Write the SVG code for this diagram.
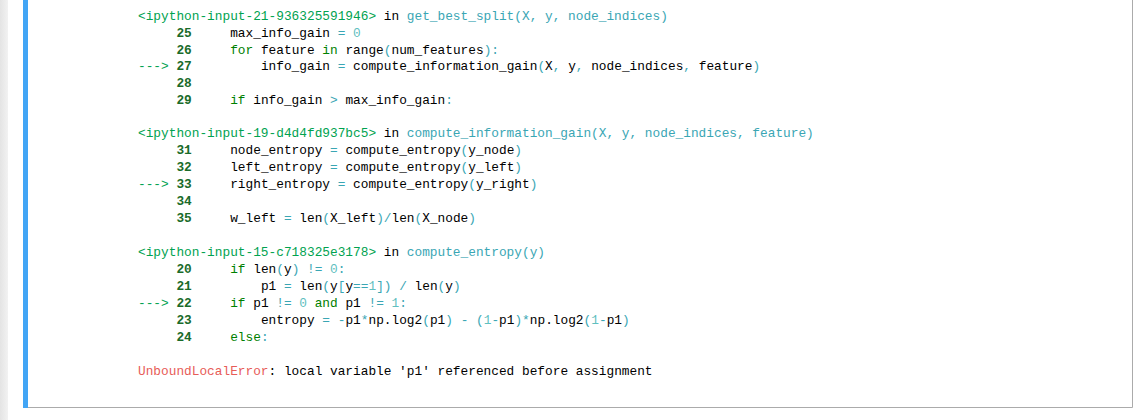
<svg xmlns="http://www.w3.org/2000/svg" width="1146" height="420" viewBox="0 0 1146 420">
<defs><linearGradient id="g" x1="0" x2="1"><stop offset="0" stop-color="#e4e4e4"/><stop offset="1" stop-color="#f2f2f2"/></linearGradient></defs>
<style>
text{font-family:"Liberation Mono","DejaVu Sans Mono",monospace;font-size:12.8px;fill:#000;white-space:pre}
.h{fill:#00a250}.f{fill:#3aa6b4}.n{fill:#1a6b2a;font-weight:bold}.a{fill:#00a250}.k{fill:#008000}.o{fill:#3aa6b4}.d{fill:#5fc0c0}.e{fill:#e75c58}
</style>
<rect width="1146" height="420" fill="#fff"/>
<rect x="0" y="0" width="8" height="420" fill="url(#g)"/>
<rect x="23" y="0" width="5" height="408" fill="#42a5f5"/>
<path d="M28 407.5H1132.5V0" fill="none" stroke="#ababab" stroke-width="1"/>
<g id="frame1">
<text x="138" y="20" xml:space="preserve"><tspan class="h">&lt;ipython-input-21-936325591946&gt;</tspan> in <tspan class="f">get_best_split(X, y, node_indices)</tspan></text>
<text class="n" x="176.4" y="37">25</text><text x="230.2" y="37" xml:space="preserve">max_info_gain <tspan class="o">=</tspan> <tspan class="d">0</tspan></text>
<text class="n" x="176.4" y="54">26</text><text x="230.2" y="54" xml:space="preserve"><tspan class="k">for</tspan> feature <tspan class="k">in</tspan> range<tspan class="o">(</tspan>num_features<tspan class="o">):</tspan></text>
<text class="a" x="138" y="70">---&gt;</text><text class="n" x="176.4" y="70">27</text><text x="230.2" y="70" xml:space="preserve">    info_gain <tspan class="o">=</tspan> compute_information_gain<tspan class="o">(</tspan>X<tspan class="o">,</tspan> y<tspan class="o">,</tspan> node_indices<tspan class="o">,</tspan> feature<tspan class="o">)</tspan></text>
<text class="n" x="176.4" y="87">28</text>
<text class="n" x="176.4" y="104">29</text><text x="230.2" y="104" xml:space="preserve"><tspan class="k">if</tspan> info_gain <tspan class="o">&gt;</tspan> max_info_gain<tspan class="o">:</tspan></text>
</g>
<g id="frame2">
<text x="138" y="137" xml:space="preserve"><tspan class="h">&lt;ipython-input-19-d4d4fd937bc5&gt;</tspan> in <tspan class="f">compute_information_gain(X, y, node_indices, feature)</tspan></text>
<text class="n" x="176.4" y="154">31</text><text x="230.2" y="154" xml:space="preserve">node_entropy <tspan class="o">=</tspan> compute_entropy<tspan class="o">(</tspan>y_node<tspan class="o">)</tspan></text>
<text class="n" x="176.4" y="171">32</text><text x="230.2" y="171" xml:space="preserve">left_entropy <tspan class="o">=</tspan> compute_entropy<tspan class="o">(</tspan>y_left<tspan class="o">)</tspan></text>
<text class="a" x="138" y="188">---&gt;</text><text class="n" x="176.4" y="188">33</text><text x="230.2" y="188" xml:space="preserve">right_entropy <tspan class="o">=</tspan> compute_entropy<tspan class="o">(</tspan>y_right<tspan class="o">)</tspan></text>
<text class="n" x="176.4" y="205">34</text>
<text class="n" x="176.4" y="222">35</text><text x="230.2" y="222" xml:space="preserve">w_left <tspan class="o">=</tspan> len<tspan class="o">(</tspan>X_left<tspan class="o">)/</tspan>len<tspan class="o">(</tspan>X_node<tspan class="o">)</tspan></text>
</g>
<g id="frame3">
<text x="138" y="256" xml:space="preserve"><tspan class="h">&lt;ipython-input-15-c718325e3178&gt;</tspan> in <tspan class="f">compute_entropy(y)</tspan></text>
<text class="n" x="176.4" y="273">20</text><text x="230.2" y="273" xml:space="preserve"><tspan class="k">if</tspan> len<tspan class="o">(</tspan>y<tspan class="o">)</tspan> <tspan class="o">!=</tspan> <tspan class="d">0</tspan><tspan class="o">:</tspan></text>
<text class="n" x="176.4" y="290">21</text><text x="230.2" y="290" xml:space="preserve">    p1 <tspan class="o">=</tspan> len<tspan class="o">(</tspan>y<tspan class="o">[</tspan>y<tspan class="o">==</tspan><tspan class="d">1</tspan><tspan class="o">])</tspan> <tspan class="o">/</tspan> len<tspan class="o">(</tspan>y<tspan class="o">)</tspan></text>
<text class="a" x="138" y="307">---&gt;</text><text class="n" x="176.4" y="307">22</text><text x="230.2" y="307" xml:space="preserve"><tspan class="k">if</tspan> p1 <tspan class="o">!=</tspan> <tspan class="d">0</tspan> <tspan class="k">and</tspan> p1 <tspan class="o">!=</tspan> <tspan class="d">1</tspan><tspan class="o">:</tspan></text>
<text class="n" x="176.4" y="324">23</text><text x="230.2" y="324" xml:space="preserve">    entropy <tspan class="o">=</tspan> <tspan class="o">-</tspan>p1<tspan class="o">*</tspan>np.log2<tspan class="o">(</tspan>p1<tspan class="o">)</tspan> <tspan class="o">-</tspan> <tspan class="o">(</tspan><tspan class="d">1</tspan><tspan class="o">-</tspan>p1<tspan class="o">)*</tspan>np.log2<tspan class="o">(</tspan><tspan class="d">1</tspan><tspan class="o">-</tspan>p1<tspan class="o">)</tspan></text>
<text class="n" x="176.4" y="341">24</text><text x="230.2" y="341" xml:space="preserve"><tspan class="k">else</tspan><tspan class="o">:</tspan></text>
</g>
<g id="error">
<text x="138" y="375" xml:space="preserve"><tspan class="e">UnboundLocalError</tspan>: local variable 'p1' referenced before assignment</text>
</g>
<g id="connectors"/>
</svg>
